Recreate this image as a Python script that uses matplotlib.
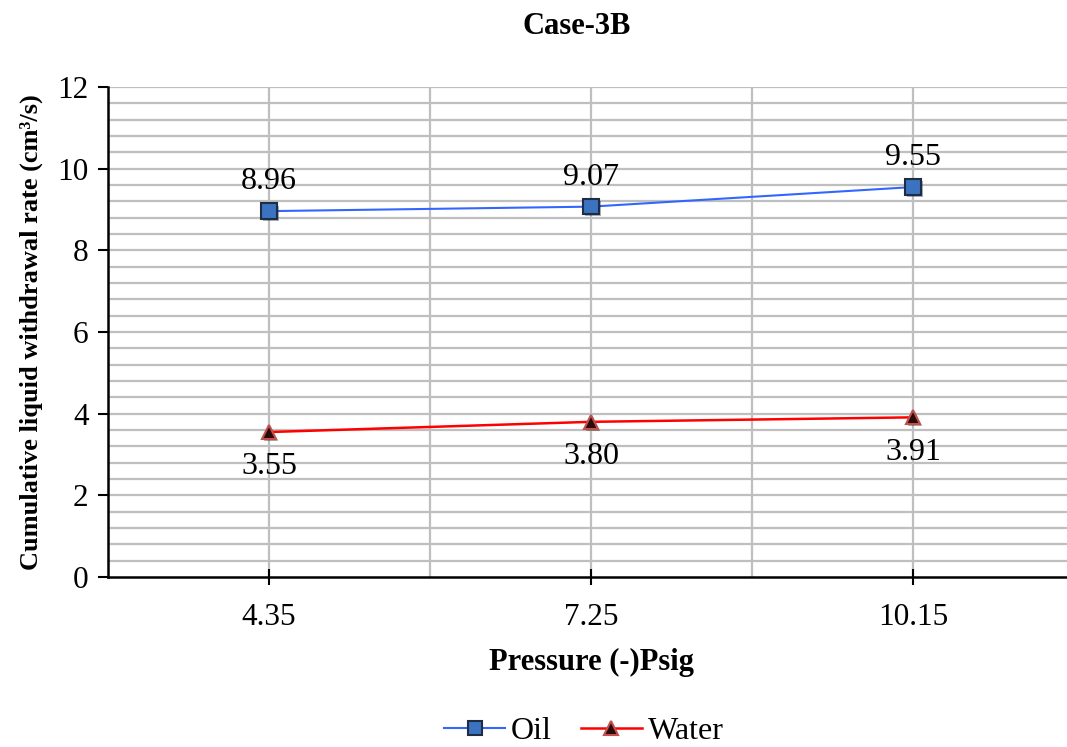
import matplotlib.pyplot as plt
import matplotlib.patheffects as pe
from matplotlib.lines import Line2D
import numpy as np

plt.rcParams["font.family"] = ["Liberation Serif", "DejaVu Serif"]

pressure = ["4.35", "7.25", "10.15"]
oil = [8.96, 9.07, 9.55]
water = [3.55, 3.80, 3.91]

W, H = 1067, 747
fig = plt.figure(figsize=(W / 100, H / 100), dpi=100)

# plot area in pixels: left 108, right 1074 (runs past the edge), top 87, bottom 577
x0, x1, y0, y1 = 108, 1074, 87, 577
ax = fig.add_axes([x0 / W, 1 - y1 / H, (x1 - x0) / W, (y1 - y0) / H])

x = np.arange(len(pressure))
ax.set_xlim(-0.5, len(pressure) - 0.5)
ax.set_ylim(0, 12)

# grid: horizontal every 0.4, vertical at categories and between them
for yv in np.arange(0.4, 12.01, 0.4):
    ax.axhline(yv, color="#bfbfbf", lw=1.6, zorder=0)
for xv in np.arange(0, len(pressure) - 0.5, 0.5):
    ax.axvline(xv, color="#bfbfbf", lw=1.6, zorder=0)

shadow = [pe.SimplePatchShadow(offset=(1.5, -1.5), alpha=0.35), pe.Normal()]

ax.plot(x, oil, color="#3366ff", lw=1.5, zorder=3)
ax.plot(x, oil, ls="none", marker="s", ms=11, mfc="#3c73c0", mec="#1f2d44",
        mew=1.5, zorder=4, path_effects=shadow)
ax.plot(x, water, color="#ff0000", lw=1.8, zorder=3)
ax.plot(x, water, ls="none", marker="^", ms=10, mfc="#2a0a0a", mec="#c0504d",
        mew=1.5, zorder=4, path_effects=shadow)

for xi, v in zip(x, oil):
    ax.annotate(f"{v:.2f}", (xi, v), xytext=(0, 21), textcoords="offset points",
                ha="center", va="center", fontsize=23)
for xi, v in zip(x, water):
    ax.annotate(f"{v:.2f}", (xi, v), xytext=(0, -25), textcoords="offset points",
                ha="center", va="center", fontsize=23)

ax.set_xticks(x)
ax.set_xticklabels(pressure)
ax.set_yticks(np.arange(0, 13, 2))
ax.tick_params(axis="y", direction="out", length=7, width=1.5, labelsize=22.5, pad=7)
ax.tick_params(axis="x", direction="inout", length=12, width=1.5, labelsize=22.5, pad=13)

for s in ["top", "right"]:
    ax.spines[s].set_visible(False)
for s in ["left", "bottom"]:
    ax.spines[s].set_linewidth(1.8)

ax.set_xlabel("Pressure (-)Psig", fontsize=22, fontweight="bold", labelpad=11)
ax.set_ylabel("Cumulative liquid withdrawal rate (cm³/s)", fontsize=19,
              fontweight="bold", labelpad=10)
fig.text(577 / W, 1 - 27 / H, "Case-3B", ha="center", va="center",
         fontsize=22, fontweight="bold")

handles = [
    Line2D([], [], color="#3366ff", lw=1.5, marker="s", ms=10, mfc="#3c73c0",
           mec="#1f2d44", mew=1.5),
    Line2D([], [], color="#ff0000", lw=1.8, marker="^", ms=10, mfc="#2a0a0a",
           mec="#c0504d", mew=1.5),
]
fig.legend(handles, ["Oil", "Water"], loc="center", bbox_to_anchor=(584 / W, 1 - 731 / H),
           ncol=2, frameon=False, fontsize=23, handlelength=1.9, handletextpad=0.2,
           columnspacing=0.9)

fig.savefig("out.png", dpi=100)
